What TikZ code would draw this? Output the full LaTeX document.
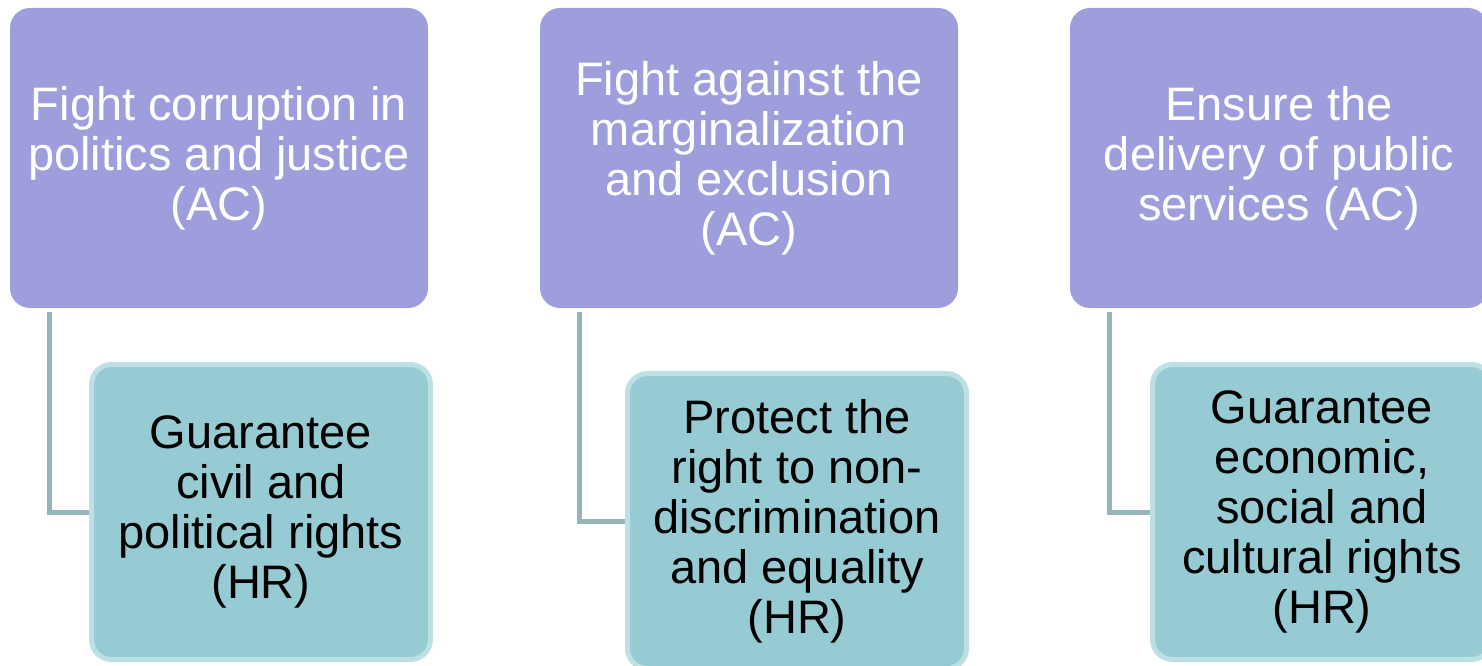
\documentclass[tikz,border=0pt]{standalone}
\usepackage{fontspec}
\setmainfont{Liberation Sans}
\usetikzlibrary{positioning, calc}
\definecolor{acFill}{HTML}{9E9EDD}
\definecolor{hrFill}{HTML}{97CBD4}
\definecolor{hrEdge}{HTML}{BCE0E3}
\definecolor{linkGrey}{HTML}{97B4B8}
\tikzset{
  acbox/.style={
    fill=acFill, draw=none, rounded corners=20pt,
    minimum width=418pt, minimum height=300pt, inner sep=0pt,
    align=center, text=white, font=\fontsize{47}{50}\selectfont
  },
  hrbox/.style={
    fill=hrFill, draw=hrEdge, line width=5pt, rounded corners=20pt,
    minimum width=339pt, minimum height=295pt, inner sep=0pt,
    align=center, text=black, font=\fontsize{47}{50}\selectfont
  },
  link/.style={line width=5pt, draw=linkGrey},
}

\begin{document}
\begin{tikzpicture}[x=1pt, y=1pt]
  \useasboundingbox (0,0) rectangle (1482,665);

  % anti-corruption goals
  \node[acbox] (ac1) at (219,507)  {Fight corruption in\\politics and justice\\(AC)};
  \node[acbox] (ac2) at (749,507)  {Fight against the\\marginalization\\and exclusion\\(AC)};
  \node[acbox] (ac3) at (1279,507) {Ensure the\\delivery of public\\services (AC)};

  % matching human rights
  \node[hrbox] (hr1) at (261,153)  {Guarantee\\civil and\\political rights\\(HR)};
  \node[hrbox] (hr2) at (797,144)  {Protect the\\right to non-\\discrimination\\and equality\\(HR)};
  \node[hrbox] (hr3) at (1322,153) {Guarantee\\economic,\\social and\\cultural rights\\(HR)};

  \draw[link] ([xshift=40pt,yshift=-4pt]ac1.south west) |- (hr1.west);
  \draw[link] ([xshift=40pt,yshift=-4pt]ac2.south west) |- (hr2.west);
  \draw[link] ([xshift=40pt,yshift=-4pt]ac3.south west) |- (hr3.west);
\end{tikzpicture}
\end{document}
